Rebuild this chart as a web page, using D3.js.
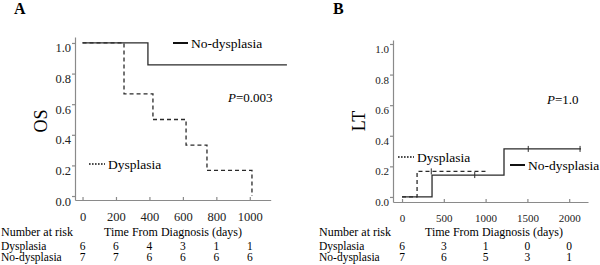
<!DOCTYPE html>
<html>
<head>
<meta charset="utf-8">
<script src="https://cdn.jsdelivr.net/npm/d3@7"></script>
<style>
  body { margin: 0; background: #fff; }
  svg { display: block; font-family: "Liberation Serif", "Times New Roman", serif; }
  .axis path, .axis line { stroke: #8a8a8a; stroke-width: 1.2; }
</style>
</head>
<body>
<div id="chart"></div>
<script>
// ---- data ----
var yTicks = [0, 0.2, 0.4, 0.6, 0.8, 1.0];

// panel A: overall survival
var osTicks = [0, 200, 400, 600, 800, 1000];
var osDysTime = [0, 248, 421, 619, 744, 1013];
var osDysVal = [1, 0.667, 0.5, 0.333, 0.167, 0];
var osDysEnd = 1013;
var osNoTime = [0, 391];
var osNoVal = [1, 0.857];
var osNoEnd = 1222;
var osRiskDys = [6, 6, 4, 3, 1, 1];
var osRiskNo = [7, 7, 6, 6, 6, 6];

// panel B: LT
var ltTicks = [0, 500, 1000, 1500, 2000];
var ltDysTime = [0, 180];
var ltDysVal = [0, 0.167];
var ltDysEnd = 1005;
var ltDysCens = [350];
var ltNoTime = [0, 359, 1220];
var ltNoVal = [0, 0.143, 0.314];
var ltNoEnd = 2141;
var ltNoCens = [870, 1510, 2130];
var ltRiskDys = [6, 3, 1, 0, 0];
var ltRiskNo = [7, 6, 5, 3, 1];

var serif = "'Liberation Serif', 'Times New Roman', serif";

var svg = d3.select("#chart").append("svg")
  .attr("width", 600)
  .attr("height", 265);

function stepPoints(times, vals, end) {
  var pts = times.map(function (t, i) { return [t, vals[i]]; });
  if (end > times[times.length - 1]) pts.push([end, vals[vals.length - 1]]);
  return pts;
}

function drawPanel(p) {
  var g = svg.append("g");

  var x = d3.scaleLinear().domain(p.xDomain).range(p.xRange);
  var y = d3.scaleLinear().domain(p.yDomain).range(p.yRange);

  // panel letter
  g.append("text")
    .attr("x", p.letterX).attr("y", 14)
    .style("font-size", "16px").style("font-weight", "bold")
    .text(p.letter);

  // y axis
  var yAxis = g.append("g")
    .attr("class", "axis")
    .attr("transform", "translate(" + p.xRange[0] + ",0)")
    .call(d3.axisLeft(y).tickValues(yTicks).tickFormat(d3.format(".1f"))
      .tickSize(3).tickSizeOuter(0).tickPadding(1));
  yAxis.selectAll("text")
    .style("font-family", serif)
    .style("font-size", p.tickFont)
    .attr("fill", "#222")
    .attr("transform", "translate(0,5)");

  // x axis (ticks point inward)
  var xAxis = g.append("g")
    .attr("class", "axis")
    .attr("transform", "translate(0," + p.yRange[0] + ")")
    .call(d3.axisBottom(x).tickValues(p.xTicks).tickFormat(d3.format("d"))
      .tickSize(-3).tickSizeOuter(0).tickPadding(12));
  xAxis.selectAll("text")
    .style("font-family", serif)
    .style("font-size", p.tickFont)
    .attr("fill", "#222");

  // axis title
  g.append("text")
    .attr("transform", "translate(" + p.titleX + "," + p.titleY + ") rotate(-90)")
    .attr("text-anchor", "middle")
    .style("font-size", "18px")
    .text(p.title);

  var line = d3.line()
    .x(function (d) { return x(d[0]); })
    .y(function (d) { return y(d[1]); })
    .curve(d3.curveStepAfter);

  p.curves.forEach(function (c) {
    var pts = stepPoints(c.time, c.val, c.end);
    g.append("path")
      .attr("d", line(pts))
      .attr("fill", "none")
      .attr("stroke", "#2a2a2a")
      .attr("stroke-width", 1.3)
      .attr("stroke-dasharray", c.dashed ? "4,3" : null);

    (c.cens || []).forEach(function (t) {
      var v = c.val[d3.bisectRight(c.time, t) - 1];
      g.append("line")
        .attr("x1", x(t)).attr("x2", x(t))
        .attr("y1", y(v) - 3).attr("y2", y(v) + 3)
        .attr("stroke", "#2a2a2a").attr("stroke-width", 1);
    });
  });

  // legends
  p.legend.forEach(function (l) {
    g.append("line")
      .attr("x1", l.x).attr("x2", l.x + l.len)
      .attr("y1", l.y).attr("y2", l.y)
      .attr("stroke", "#111")
      .attr("stroke-width", l.dotted ? 1.5 : 2)
      .attr("stroke-dasharray", l.dotted ? "1.6,1.4" : null);
    g.append("text")
      .attr("x", l.x + l.len + 3).attr("y", l.y + 4.5)
      .style("font-size", "13.5px")
      .text(l.label);
  });

  // p value
  var pt = g.append("text")
    .attr("x", p.pX).attr("y", p.pY)
    .style("font-size", "13px");
  pt.append("tspan").style("font-style", "italic").text("P");
  pt.append("tspan").text("=" + p.pText);

  // number at risk table
  var fs = "11.5px";
  g.append("text").attr("x", p.tableX).attr("y", 236)
    .style("font-size", "12px").text("Number at risk");
  g.append("text").attr("x", p.timeLabelX).attr("y", 236)
    .attr("text-anchor", "middle")
    .style("font-size", "12px").text("Time From Diagnosis (days)");
  g.append("text").attr("x", p.tableX).attr("y", 250)
    .style("font-size", fs).text("Dysplasia");
  g.append("text").attr("x", p.tableX).attr("y", 261)
    .style("font-size", fs).text("No-dysplasia");

  g.selectAll(".riskDys").data(p.riskDys).enter().append("text")
    .attr("x", function (d, i) { return x(p.xTicks[i]); })
    .attr("y", 250)
    .attr("text-anchor", "middle")
    .style("font-size", fs)
    .text(function (d) { return d; });
  g.selectAll(".riskNo").data(p.riskNo).enter().append("text")
    .attr("x", function (d, i) { return x(p.xTicks[i]); })
    .attr("y", 261)
    .attr("text-anchor", "middle")
    .style("font-size", fs)
    .text(function (d) { return d; });
}

drawPanel({
  letter: "A", letterX: 14,
  xDomain: [-45, 1125], xRange: [75, 270.7],
  yDomain: [-0.026, 1.039], yRange: [200, 37],
  xTicks: osTicks, tickFont: "12.5px",
  title: "OS", titleX: 47, titleY: 121,
  curves: [
    { time: osNoTime, val: osNoVal, end: osNoEnd, dashed: false },
    { time: osDysTime, val: osDysVal, end: osDysEnd, dashed: true }
  ],
  legend: [
    { x: 173, y: 43, len: 15, label: "No-dysplasia" },
    { x: 89, y: 164, len: 16, label: "Dysplasia", dotted: true }
  ],
  pX: 228, pY: 102, pText: "0.003",
  tableX: 1, timeLabelX: 173,
  riskDys: osRiskDys, riskNo: osRiskNo
});

drawPanel({
  letter: "B", letterX: 333,
  xDomain: [-108, 2225], xRange: [393, 588],
  yDomain: [-0.033, 1.026], yRange: [202, 40],
  xTicks: ltTicks, tickFont: "11px",
  title: "LT", titleX: 365, titleY: 121,
  curves: [
    { time: ltNoTime, val: ltNoVal, end: ltNoEnd, cens: ltNoCens, dashed: false },
    { time: ltDysTime, val: ltDysVal, end: ltDysEnd, cens: ltDysCens, dashed: true }
  ],
  legend: [
    { x: 398, y: 157, len: 16, label: "Dysplasia", dotted: true },
    { x: 510, y: 165, len: 15, label: "No-dysplasia" }
  ],
  pX: 547, pY: 104, pText: "1.0",
  tableX: 319, timeLabelX: 494,
  riskDys: ltRiskDys, riskNo: ltRiskNo
});
</script>
</body>
</html>
